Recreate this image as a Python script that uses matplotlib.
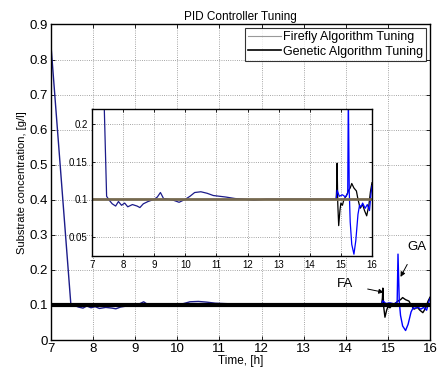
import numpy as np
import matplotlib.pyplot as plt

plt.rcParams['font.family'] = ['Liberation Sans', 'DejaVu Sans']

# =========================
# Data
# =========================

# common part of both responses
t_common = [7.0, 7.47, 7.55, 7.65, 7.76, 7.85, 7.95, 8.05, 8.15, 8.3, 8.45,
            8.54, 8.65, 8.8, 9.0, 9.1, 9.2, 9.3, 9.45, 9.6, 9.8, 10.0, 10.15,
            10.3, 10.5, 10.7, 10.9, 11.1, 11.3, 11.6, 11.9, 12.2, 12.6, 13.0,
            13.5, 14.0, 14.5, 14.85]
s_common = [0.84, 0.104, 0.099, 0.094, 0.091, 0.097, 0.092, 0.095, 0.090,
            0.093, 0.091, 0.089, 0.094, 0.097, 0.100, 0.103, 0.109, 0.101,
            0.100, 0.099, 0.096, 0.100, 0.104, 0.109, 0.110, 0.108, 0.105,
            0.104, 0.103, 0.101, 0.100, 0.099, 0.100, 0.100, 0.100, 0.100,
            0.100, 0.100]

# firefly tail
t_fa = [14.85, 14.87, 14.88, 14.9, 14.93, 14.97, 15.0, 15.05, 15.1, 15.18,
        15.25, 15.3, 15.35, 15.42, 15.5, 15.55, 15.62, 15.7, 15.76, 15.83,
        15.9, 15.95, 16.0]
s_fa = [0.100, 0.120, 0.148, 0.095, 0.065, 0.085, 0.095, 0.092, 0.100,
        0.105, 0.112, 0.115, 0.121, 0.115, 0.111, 0.100, 0.088, 0.093,
        0.085, 0.078, 0.092, 0.110, 0.122]

# genetic tail
t_ga = [14.85, 14.88, 14.95, 15.05, 15.15, 15.22, 15.24, 15.27, 15.3, 15.35,
        15.42, 15.48, 15.55, 15.6, 15.65, 15.7, 15.78, 15.85, 15.92, 15.97,
        16.0]
s_ga = [0.100, 0.112, 0.104, 0.106, 0.103, 0.108, 0.245, 0.110, 0.070,
        0.040, 0.027, 0.045, 0.080, 0.092, 0.090, 0.095, 0.088, 0.093,
        0.085, 0.108, 0.118]

setpoint = 0.1

x_ticks = [7, 8, 9, 10, 11, 12, 13, 14, 15, 16]
y_ticks = [0, 0.1, 0.2, 0.3, 0.4, 0.5, 0.6, 0.7, 0.8, 0.9]
y_ticks_inset = [0.05, 0.1, 0.15, 0.2]

# =========================
# Figure
# =========================

fig = plt.figure(figsize=(4.37, 3.74), dpi=100)
ax = fig.add_axes([0.1167, 0.0909, 0.8673, 0.8436])

ax.plot(t_common, s_common, color='#1c1c8a', lw=1.0)
ax.plot(t_fa, s_fa, color='black', lw=1.0)
ax.plot(t_ga, s_ga, color='#0000ff', lw=1.0)
ax.axhline(setpoint, color='black', lw=3)

# legend handles (as in the original figure)
ax.plot([], [], color='#999999', lw=0.8, label='Firefly Algorithm Tuning')
ax.plot([], [], color='black', lw=1.2, label='Genetic Algorithm Tuning')

ax.set_xlim(7, 16)
ax.set_ylim(0, 0.9)
ax.set_xticks(x_ticks)
ax.set_yticks(y_ticks)
ax.set_yticklabels(['0'] + [f'{v:g}' for v in y_ticks[1:]])
ax.tick_params(direction='in', top=True, right=True, labelsize=9.5,
               length=3, width=0.6, pad=2)
ax.grid(True, ls=':', color='#888888', lw=0.6)
for sp in ax.spines.values():
    sp.set_linewidth(1.0)

ax.set_xlabel('Time, [h]', fontsize=8.5, labelpad=0)
ax.set_ylabel('Substrate concentration, [g/l]', fontsize=8, labelpad=2)
ax.set_title('PID Controller Tuning', fontsize=8.5, pad=3)

leg = ax.legend(loc='upper right', fontsize=9, frameon=True, fancybox=False,
                borderpad=0.25, handlelength=2.6, handletextpad=0.2,
                labelspacing=0.2, borderaxespad=0.3)
leg.get_frame().set_edgecolor('black')
leg.get_frame().set_linewidth(0.8)

ax.annotate('GA', xy=(15.3, 0.18), xytext=(15.68, 0.265), fontsize=9.5,
            ha='center', va='center',
            arrowprops=dict(arrowstyle='-|>', color='black', lw=0.7,
                            mutation_scale=7, shrinkA=7, shrinkB=0))
ax.annotate('FA', xy=(14.9, 0.136), xytext=(13.97, 0.159), fontsize=9.5,
            ha='center', va='center',
            arrowprops=dict(arrowstyle='-|>', color='black', lw=0.7,
                            mutation_scale=7, shrinkA=9, shrinkB=0))

# =========================
# Inset
# =========================

ins = fig.add_axes([0.2105, 0.3163, 0.6407, 0.3922])
ins.plot(t_common, s_common, color='#1c1c8a', lw=0.9)
ins.plot(t_fa, s_fa, color='black', lw=0.9)
ins.plot(t_ga, s_ga, color='#0000ff', lw=0.9)
ins.axhline(setpoint, color='#76694f', lw=2)

ins.set_xlim(7, 16)
ins.set_ylim(0.025, 0.22)
ins.set_xticks(x_ticks)
ins.set_yticks(y_ticks_inset)
ins.set_yticklabels([f'{v:g}' for v in y_ticks_inset])
ins.tick_params(direction='in', top=True, right=True, labelsize=7,
                length=2.5, width=0.6, pad=3)
ins.grid(True, ls=':', color='#888888', lw=0.6)
for sp in ins.spines.values():
    sp.set_linewidth(1.0)

fig.savefig('out.png', dpi=100)
